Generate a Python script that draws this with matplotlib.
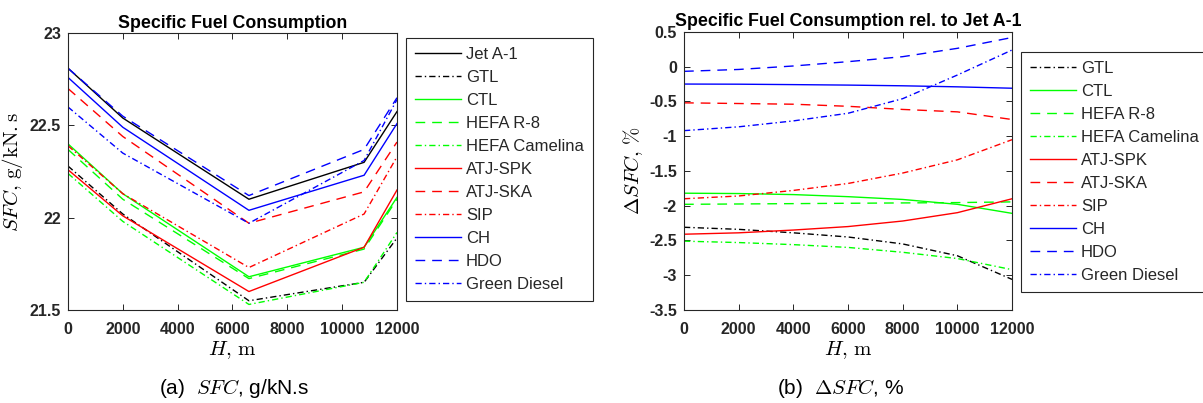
import matplotlib
matplotlib.use("Agg")
import matplotlib.pyplot as plt

plt.rcParams['font.family'] = ['Liberation Sans', 'DejaVu Sans']
plt.rcParams['mathtext.fontset'] = 'cm'

# altitude grid, m
H_abs = [0, 2000, 6600, 10800, 12000]
H_rel = [0, 2000, 4000, 6000, 8000, 10000, 12000]

fuels = ["Jet A-1", "GTL", "CTL", "HEFA R-8", "HEFA Camelina",
         "ATJ-SPK", "ATJ-SKA", "SIP", "CH", "HDO", "Green Diesel"]

# specific fuel consumption, g/kN.s
sfc_jeta1 = [22.81, 22.54, 22.10, 22.30, 22.575]
sfc_gtl = [22.28, 22.02, 21.55, 21.65, 21.89]
sfc_ctl = [22.40, 22.13, 21.68, 21.84, 22.11]
sfc_hefa_r8 = [22.37, 22.10, 21.67, 21.83, 22.10]
sfc_hefa_cam = [22.24, 21.98, 21.53, 21.65, 21.92]
sfc_atj_spk = [22.26, 22.01, 21.60, 21.84, 22.15]
sfc_atj_ska = [22.70, 22.44, 21.97, 22.14, 22.41]
sfc_sip = [22.39, 22.13, 21.73, 22.02, 22.33]
sfc_ch = [22.76, 22.49, 22.04, 22.23, 22.51]
sfc_hdo = [22.81, 22.55, 22.12, 22.37, 22.65]
sfc_green_diesel = [22.60, 22.35, 21.97, 22.31, 22.64]

# SFC change relative to Jet A-1, %
d_gtl = [-2.31, -2.34, -2.39, -2.45, -2.55, -2.72, -3.06]
d_ctl = [-1.82, -1.825, -1.84, -1.87, -1.91, -1.98, -2.11]
d_hefa_r8 = [-1.98, -1.975, -1.97, -1.965, -1.96, -1.955, -1.945]
d_hefa_cam = [-2.51, -2.53, -2.56, -2.60, -2.67, -2.76, -2.92]
d_atj_spk = [-2.41, -2.39, -2.35, -2.30, -2.22, -2.10, -1.90]
d_atj_ska = [-0.52, -0.53, -0.54, -0.57, -0.615, -0.65, -0.76]
d_sip = [-1.90, -1.86, -1.78, -1.68, -1.53, -1.34, -1.05]
d_ch = [-0.25, -0.252, -0.258, -0.265, -0.275, -0.29, -0.31]
d_hdo = [-0.067, -0.04, 0.01, 0.072, 0.144, 0.264, 0.42]
d_green_diesel = [-0.92, -0.865, -0.78, -0.67, -0.46, -0.12, 0.24]

sfc_all = [sfc_jeta1, sfc_gtl, sfc_ctl, sfc_hefa_r8, sfc_hefa_cam, sfc_atj_spk,
           sfc_atj_ska, sfc_sip, sfc_ch, sfc_hdo, sfc_green_diesel]
d_all = [None, d_gtl, d_ctl, d_hefa_r8, d_hefa_cam, d_atj_spk,
         d_atj_ska, d_sip, d_ch, d_hdo, d_green_diesel]

# line styles (MATLAB-like)
SOLID = '-'
DASH = (0, (7, 5))
DASHDOT = (0, (4.5, 2.2, 1, 2.2))
colors = ['k', 'k', '#00ff00', '#00ff00', '#00ff00', 'r', 'r', 'r', 'b', 'b', 'b']
styles = [SOLID, DASHDOT, SOLID, DASH, DASHDOT, SOLID, DASH, DASHDOT, SOLID, DASH, DASHDOT]

fig = plt.figure(figsize=(12.03, 4.03), dpi=100)
ax1 = fig.add_axes([0.0565, 0.2308, 0.2735, 0.687])
ax2 = fig.add_axes([0.5686, 0.2308, 0.2727, 0.690])

for name, y, c, ls in zip(fuels, sfc_all, colors, styles):
    ax1.plot(H_abs, y, color=c, linestyle=ls, lw=1.0, label=name)

for name, y, c, ls in zip(fuels, d_all, colors, styles):
    if y is None:
        continue
    ax2.plot(H_rel, y, color=c, linestyle=ls, lw=1.0, label=name)

ax1.set_xlim(0, 12000)
ax1.set_ylim(21.5, 23)
ax1.set_yticks([21.5, 22, 22.5, 23])
ax1.set_yticklabels(['21.5', '22', '22.5', '23'])
ax1.set_title("Specific Fuel Consumption", fontsize=12.8, fontweight='bold', pad=4)
ax1.set_xlabel(r"$H,\,\mathrm{m}$", fontsize=15, labelpad=1)
ax1.set_ylabel(r"$SFC,\,\mathrm{g/kN.s}$", fontsize=15, labelpad=3)

ax2.set_xlim(0, 12000)
ax2.set_ylim(-3.5, 0.5)
yt = [-3.5, -3, -2.5, -2, -1.5, -1, -0.5, 0, 0.5]
ax2.set_yticks(yt)
ax2.set_yticklabels(['%g' % v for v in yt])
ax2.set_title("Specific Fuel Consumption rel. to Jet A-1", fontsize=12.8, fontweight='bold', pad=4)
ax2.set_xlabel(r"$H,\,\mathrm{m}$", fontsize=15, labelpad=1)
ax2.set_ylabel(r"$\Delta SFC,\,\%$", fontsize=15, labelpad=3)

for ax in (ax1, ax2):
    ax.set_xticks(range(0, 12001, 2000))
    ax.tick_params(direction='in', top=True, right=True, length=4, width=0.7,
                   labelsize=11.5, colors='#262626')
    ax.tick_params(axis='x', pad=9)
    ax.tick_params(axis='y', pad=5)
    for lab in ax.get_xticklabels() + ax.get_yticklabels():
        lab.set_fontweight('bold')
    for sp in ax.spines.values():
        sp.set_color('#262626')
        sp.set_linewidth(0.8)

leg_kw = dict(loc='upper left', bbox_transform=fig.transFigure, borderaxespad=0,
              fontsize=12, labelspacing=0.48, handlelength=2.75, handletextpad=0.3,
              borderpad=0.55, fancybox=False, framealpha=1, edgecolor='#262626')
leg1 = ax1.legend(bbox_to_anchor=(406 / 1203, 1 - 38 / 403), **leg_kw)
leg2 = ax2.legend(bbox_to_anchor=(1021 / 1203, 1 - 52 / 403), **leg_kw)
for leg in (leg1, leg2):
    leg.get_frame().set_linewidth(0.8)
    for t in leg.get_texts():
        t.set_color('#262626')

fig.text(234 / 1203, 1 - 388 / 403, r"(a)  $SFC$, g/kN.s", fontsize=15,
         ha='center', va='center')
fig.text(840 / 1203, 1 - 388 / 403, r"(b)  $\Delta SFC$, %", fontsize=15,
         ha='center', va='center')

fig.savefig("out.png", dpi=100)
